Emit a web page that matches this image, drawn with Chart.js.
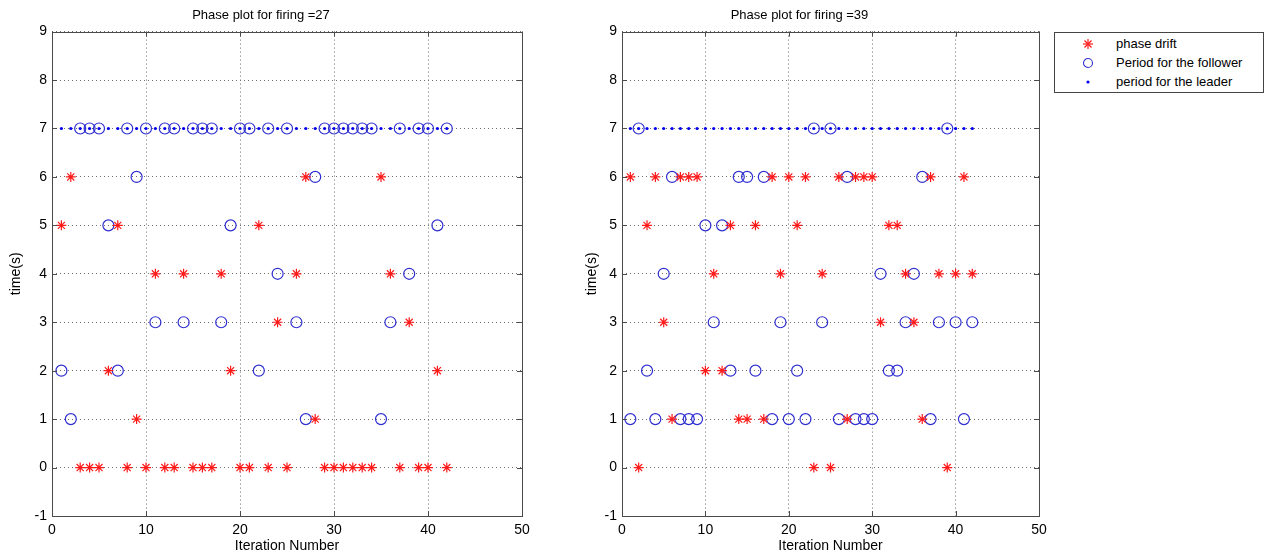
<!DOCTYPE html>
<html>
<head>
<meta charset="utf-8">
<title>Phase plots</title>
<script src="https://cdn.jsdelivr.net/npm/chart.js@4.4.1/dist/chart.umd.min.js"></script>
<style>
  body { margin: 0; background: #fff; width: 1281px; height: 557px; overflow: hidden; position: relative; font-family: "Liberation Sans", Arial, sans-serif; }
  canvas { position: absolute; top: 0; }
  #chart27 { left: 0; }
  #chart39 { left: 560px; }
  #legend { position: absolute; left: 1054px; top: 32px; width: 208px; height: 59px; border: 1px solid #444; background: #fff; font-size: 13px; color: #000; }
  #legend .row { position: absolute; left: 0; height: 18px; line-height: 18px; }
  #legend svg { position: absolute; left: 26px; top: 2px; }
  #legend span { position: absolute; left: 61px; white-space: nowrap; }
</style>
</head>
<body>
<canvas id="chart27" width="560" height="557"></canvas>
<canvas id="chart39" width="500" height="557"></canvas>
<div id="legend"></div>
<script>
// --- DATOS ---
const iterations = [1, 2, 3, 4, 5, 6, 7, 8, 9, 10, 11, 12, 13, 14, 15, 16, 17, 18, 19, 20, 21,
                    22, 23, 24, 25, 26, 27, 28, 29, 30, 31, 32, 33, 34, 35, 36, 37, 38, 39, 40, 41, 42];

// firing = 27
const drift27    = [5, 6, 0, 0, 0, 2, 5, 0, 1, 0, 4, 0, 0, 4, 0, 0, 0, 4, 2, 0, 0,
                    5, 0, 3, 0, 4, 6, 1, 0, 0, 0, 0, 0, 0, 6, 4, 0, 3, 0, 0, 2, 0];
const follower27 = [2, 1, 7, 7, 7, 5, 2, 7, 6, 7, 3, 7, 7, 3, 7, 7, 7, 3, 5, 7, 7,
                    2, 7, 4, 7, 3, 1, 6, 7, 7, 7, 7, 7, 7, 1, 3, 7, 4, 7, 7, 5, 7];
const leader27   = [7, 7, 7, 7, 7, 7, 7, 7, 7, 7, 7, 7, 7, 7, 7, 7, 7, 7, 7, 7, 7,
                    7, 7, 7, 7, 7, 7, 7, 7, 7, 7, 7, 7, 7, 7, 7, 7, 7, 7, 7, 7, 7];

// firing = 39
const drift39    = [6, 0, 5, 6, 3, 1, 6, 6, 6, 2, 4, 2, 5, 1, 1, 5, 1, 6, 4, 6, 5,
                    6, 0, 4, 0, 6, 1, 6, 6, 6, 3, 5, 5, 4, 3, 1, 6, 4, 0, 4, 6, 4];
const follower39 = [1, 7, 2, 1, 4, 6, 1, 1, 1, 5, 3, 5, 2, 6, 6, 2, 6, 1, 3, 1, 2,
                    1, 7, 3, 7, 1, 6, 1, 1, 1, 4, 2, 2, 3, 4, 6, 1, 3, 7, 3, 1, 3];
const leader39   = [7, 7, 7, 7, 7, 7, 7, 7, 7, 7, 7, 7, 7, 7, 7, 7, 7, 7, 7, 7, 7,
                    7, 7, 7, 7, 7, 7, 7, 7, 7, 7, 7, 7, 7, 7, 7, 7, 7, 7, 7, 7, 7];

const xTicks = [0, 10, 20, 30, 40, 50];
const yTicks = [-1, 0, 1, 2, 3, 4, 5, 6, 7, 8, 9];
const seriesNames = ['phase drift', 'Period for the follower', 'period for the leader'];

const FONT = '"Liberation Sans", Arial, sans-serif';
const RED = '#ff1a1a';
const BLUE = '#2f2fd0';
const LEADER_BLUE = '#0000ee';

function toPoints(values) {
    return iterations.map((x, i) => ({ x: x, y: values[i] }));
}

// caja de ejes estilo MATLAB con marcas hacia adentro
const matlabBox = {
    id: 'matlabBox',
    afterDraw(chart) {
        const { ctx, chartArea: a, scales: { x, y } } = chart;
        const len = 5;
        ctx.save();
        ctx.strokeStyle = '#4a4a4a';
        ctx.lineWidth = 1;
        ctx.strokeRect(Math.round(a.left) + 0.5, Math.round(a.top) + 0.5, Math.round(a.width), Math.round(a.height));
        ctx.beginPath();
        x.ticks.forEach(t => {
            const px = Math.round(x.getPixelForValue(t.value)) + 0.5;
            ctx.moveTo(px, a.bottom); ctx.lineTo(px, a.bottom - len);
            ctx.moveTo(px, a.top); ctx.lineTo(px, a.top + len);
        });
        y.ticks.forEach(t => {
            const py = Math.round(y.getPixelForValue(t.value)) + 0.5;
            ctx.moveTo(a.left, py); ctx.lineTo(a.left + len, py);
            ctx.moveTo(a.right, py); ctx.lineTo(a.right - len, py);
        });
        ctx.stroke();
        ctx.restore();
    }
};

function makeChart(canvasId, titleText, drift, follower, leader, layout) {
    const ctx = document.getElementById(canvasId).getContext('2d');
    return new Chart(ctx, {
        type: 'scatter',
        data: {
            datasets: [
                { label: seriesNames[0], data: toPoints(drift), pointStyle: 'star', radius: 5,
                  borderColor: RED, backgroundColor: RED, borderWidth: 1.2, order: 1 },
                { label: seriesNames[1], data: toPoints(follower), pointStyle: 'circle', radius: 5.5,
                  borderColor: BLUE, backgroundColor: 'rgba(0,0,0,0)', borderWidth: 1.2, order: 2 },
                { label: seriesNames[2], data: toPoints(leader), pointStyle: 'circle', radius: 1.6,
                  borderColor: LEADER_BLUE, backgroundColor: LEADER_BLUE, borderWidth: 0, order: 0 }
            ]
        },
        options: {
            responsive: false,
            animation: false,
            layout: { padding: { left: 0, right: layout.padRight, top: 0, bottom: 0 } },
            plugins: {
                legend: { display: false },
                tooltip: { enabled: false },
                title: { display: true, text: titleText, color: '#000',
                         font: { family: FONT, size: 13, weight: 'normal' },
                         padding: { top: 8, bottom: 8 } }
            },
            scales: {
                x: {
                    type: 'linear', min: 0, max: 50,
                    afterBuildTicks: s => { s.ticks = xTicks.map(v => ({ value: v })); },
                    afterFit: s => { s.height = 41; },
                    grid: { color: '#6e6e6e', lineWidth: 1, drawTicks: false },
                    border: { display: false, dash: [1, 3] },
                    ticks: { color: '#000', padding: 6, font: { family: FONT, size: 14 }, maxRotation: 0 },
                    title: { display: true, text: 'Iteration Number', color: '#000',
                             font: { family: FONT, size: 14 }, padding: { top: 0, bottom: 2 } }
                },
                y: {
                    type: 'linear', min: -1, max: 9,
                    afterBuildTicks: s => { s.ticks = yTicks.map(v => ({ value: v })); },
                    afterFit: s => { s.width = layout.yWidth; },
                    grid: { color: '#6e6e6e', lineWidth: 1, drawTicks: false },
                    border: { display: false, dash: [1, 3] },
                    ticks: { color: '#000', padding: 5, font: { family: FONT, size: 14 } },
                    title: { display: true, text: 'time(s)', color: '#000',
                             font: { family: FONT, size: 14 }, padding: { top: layout.yTitlePad, bottom: 0 } }
                }
            }
        },
        plugins: [matlabBox]
    });
}

// --- LEYENDA ---
function buildLegend() {
    const legend = document.getElementById('legend');
    const markers = [
        `<svg width="14" height="14"><g stroke="${RED}" stroke-width="1.2"><line x1="7" y1="2" x2="7" y2="12"/><line x1="2" y1="7" x2="12" y2="7"/><line x1="3.5" y1="3.5" x2="10.5" y2="10.5"/><line x1="10.5" y1="3.5" x2="3.5" y2="10.5"/></g></svg>`,
        `<svg width="14" height="14"><circle cx="7" cy="7" r="4.5" fill="none" stroke="${BLUE}" stroke-width="1.1"/></svg>`,
        `<svg width="14" height="14"><circle cx="7" cy="7" r="1.6" fill="${LEADER_BLUE}"/></svg>`
    ];
    seriesNames.forEach((name, i) => {
        const row = document.createElement('div');
        row.className = 'row';
        row.style.top = (2 + i * 19) + 'px';
        row.style.width = '100%';
        row.innerHTML = markers[i] + `<span>${name}</span>`;
        legend.appendChild(row);
    });
}

// --- INICIALIZACIÓN ---
makeChart('chart27', 'Phase plot for firing =27', drift27, follower27, leader27,
          { padRight: 38, yWidth: 52, yTitlePad: 8 });
makeChart('chart39', 'Phase plot for firing =39', drift39, follower39, leader39,
          { padRight: 21, yWidth: 62, yTitlePad: 24 });
buildLegend();
</script>
</body>
</html>
